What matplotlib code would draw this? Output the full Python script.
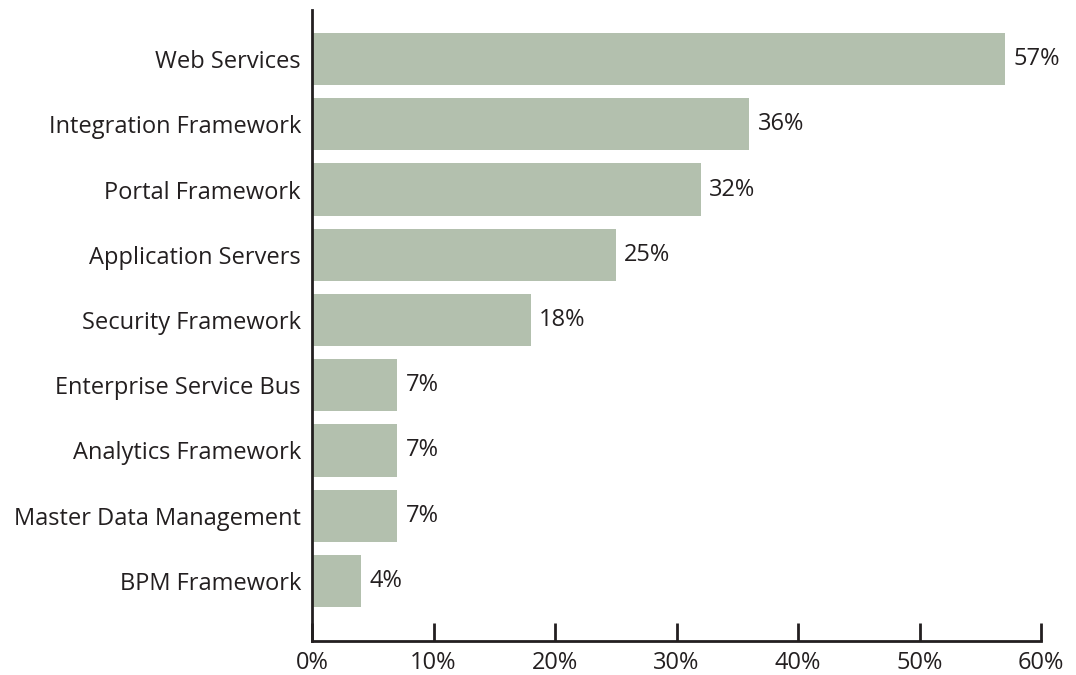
import matplotlib.pyplot as plt

categories = ["Web Services", "Integration Framework", "Portal Framework",
              "Application Servers", "Security Framework", "Enterprise Service Bus",
              "Analytics Framework", "Master Data Management", "BPM Framework"]
shares = [57, 36, 32, 25, 18, 7, 7, 7, 4]
x_ticks = [0, 10, 20, 30, 40, 50, 60]

plt.rcParams['font.family'] = ['Open Sans', 'DejaVu Sans']

fig = plt.figure(figsize=(10.76, 6.75), dpi=100)
ax = fig.add_axes([0.290, 0.0504, 0.6775, 0.9346])

pos = list(range(len(categories)))
ax.barh(pos, shares, height=0.8, color='#b3c0ae')

for p, v in zip(pos, shares):
    ax.text(v + 0.7, p, f'{v}%', va='center', ha='left', fontsize=17, color='#231f20')

ax.set_yticks(pos)
ax.set_yticklabels(categories, fontsize=17, color='#231f20')
ax.tick_params(axis='y', length=0, pad=8)

ax.set_xticks(x_ticks)
ax.set_xticklabels([f'{t}%' for t in x_ticks], fontsize=17, color='#231f20')
ax.tick_params(axis='x', direction='in', length=13, width=2, color='#231f20', pad=7)

ax.set_xlim(0, 60)
ax.set_ylim(len(categories) - 1 + 0.92, -0.75)

for side in ['top', 'right']:
    ax.spines[side].set_visible(False)
for side in ['left', 'bottom']:
    ax.spines[side].set_linewidth(2)
    ax.spines[side].set_color('#231f20')

fig.savefig('out.png', dpi=100)
